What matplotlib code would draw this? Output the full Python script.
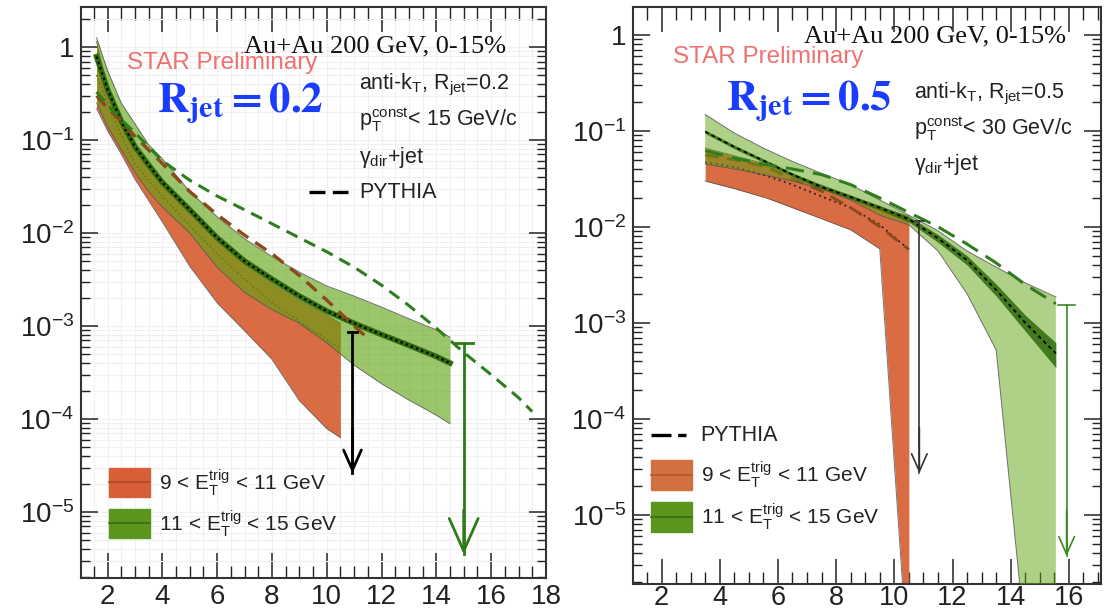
import numpy as np
import matplotlib
matplotlib.use("Agg")
import matplotlib.pyplot as plt
from matplotlib.patches import Rectangle
from matplotlib.lines import Line2D
from matplotlib.ticker import FixedLocator, FixedFormatter, MultipleLocator, LogLocator, NullFormatter

plt.rcParams['font.family'] = ['Liberation Sans', 'DejaVu Sans']
plt.rcParams['mathtext.fontset'] = 'custom'
plt.rcParams['mathtext.rm'] = 'Liberation Sans'
plt.rcParams['mathtext.it'] = 'Liberation Sans:italic'
plt.rcParams['mathtext.bf'] = 'Liberation Sans:bold'

# ---------------- R_jet = 0.2 ----------------
# 9 < E_T^trig < 11 GeV
x_or02 = [1.6, 2.0, 2.5, 3.0, 3.5, 4.0, 5.0, 6.0, 7.0, 8.0, 9.0, 10.0, 10.5]
up_or02 = [1.15, 0.35, 0.15, 0.079, 0.050, 0.033, 0.0166, 0.0083, 0.0047, 0.0029, 0.0019, 0.00132, 0.00107]
lo_or02 = [0.22, 0.126, 0.071, 0.038, 0.0224, 0.0132, 0.0044, 0.00178, 0.00089, 0.00044, 0.000158, 7.9e-5, 6.3e-5]
mid_or02 = [0.5, 0.25, 0.112, 0.056, 0.037, 0.025, 0.012, 0.006, 0.0032, 0.00178, 0.00112, 0.00071, 0.00058]
# 11 < E_T^trig < 15 GeV
x_gr02 = [1.6, 2.0, 2.5, 3.0, 3.5, 4.0, 5.0, 6.0, 7.0, 8.0, 9.0, 10.0, 11.0, 12.0, 13.0, 14.0, 14.5]
up_gr02 = [1.26, 0.56, 0.25, 0.15, 0.089, 0.063, 0.028, 0.015, 0.0087, 0.0056, 0.0038, 0.0027, 0.0021, 0.0016, 0.0012, 0.00091, 0.00076]
mid_gr02 = [0.79, 0.35, 0.16, 0.085, 0.054, 0.035, 0.0178, 0.0089, 0.005, 0.0032, 0.0021, 0.00145, 0.00107, 0.00081, 0.00062, 0.00047, 0.0004]
lo_gr02 = [0.25, 0.14, 0.079, 0.045, 0.028, 0.019, 0.01, 0.0043, 0.0023, 0.0015, 0.00107, 0.00066, 0.00038, 0.00024, 0.00016, 0.00011, 8.9e-5]
# PYTHIA
x_py_or02 = [1.6, 2.0, 2.5, 3.0, 4.0, 5.0, 6.0, 7.0, 8.0, 9.0, 10.0, 11.0, 11.5]
y_py_or02 = [0.3, 0.22, 0.16, 0.11, 0.056, 0.028, 0.0158, 0.0095, 0.006, 0.0035, 0.0019, 0.001, 0.00074]
x_py_gr02 = [1.6, 2.0, 2.5, 3.0, 4.0, 5.0, 6.0, 7.0, 8.0, 9.0, 10.0, 11.0, 12.0, 13.0, 14.0, 15.0, 16.0, 17.0, 17.5]
y_py_gr02 = [0.33, 0.24, 0.166, 0.12, 0.06, 0.037, 0.025, 0.0178, 0.0126, 0.0089, 0.0063, 0.0043, 0.00275, 0.00166, 0.00095, 0.00052, 0.0003, 0.00017, 0.00012]
# upper limits: x, top, arrow tip
lim_or02 = (10.94, 0.00086, 2.6e-5)
lim_gr02 = (15.0, 0.00066, 3.5e-6)

# ---------------- R_jet = 0.5 ----------------
x_or05 = [3.5, 4.5, 5.6, 6.5, 7.45, 8.5, 9.5, 10.5]
up_or05 = [0.066, 0.055, 0.045, 0.0355, 0.0275, 0.021, 0.0158, 0.0129]
mid_or05 = [0.047, 0.042, 0.034, 0.0275, 0.021, 0.0158, 0.0105, 0.0058]
lo_or05 = [0.030, 0.025, 0.020, 0.0158, 0.0123, 0.0093, 0.0059, 2e-7]
x_gr05 = [3.5, 4.5, 5.5, 6.5, 7.5, 8.5, 9.5, 10.5, 11.5, 12.5, 13.5, 14.5, 15.55]
up_gr05 = [0.148, 0.095, 0.066, 0.048, 0.036, 0.0275, 0.019, 0.0132, 0.0091, 0.0056, 0.0038, 0.0026, 0.00186]
mid_gr05 = [0.098, 0.068, 0.049, 0.035, 0.026, 0.0204, 0.0158, 0.012, 0.0076, 0.0045, 0.0022, 0.001, 0.00048]
stat_up_gr05 = [0.102, 0.071, 0.051, 0.0365, 0.0273, 0.0214, 0.0167, 0.0128, 0.0083, 0.005, 0.00253, 0.0012, 0.00062]
stat_lo_gr05 = [0.094, 0.065, 0.047, 0.0336, 0.0247, 0.0194, 0.0149, 0.0112, 0.0069, 0.004, 0.0019, 0.00082, 0.00034]
lo_gr05 = [0.045, 0.04, 0.035, 0.030, 0.025, 0.019, 0.0132, 0.0105, 0.0056, 0.002, 0.00052, 5e-7, 1e-8]
y_py_or05 = [0.056, 0.05, 0.042, 0.0316, 0.024, 0.0158, 0.01, 0.0058]
y_py_gr05 = [0.062, 0.052, 0.045, 0.04, 0.035, 0.0275, 0.02, 0.0141, 0.01, 0.0066, 0.0042, 0.0025, 0.00158]
lim_or05 = (10.86, 0.0114, 2.7e-5)
lim_gr05 = (15.92, 0.00155, 3.7e-6)

y_ticks = [1e-5, 1e-4, 1e-3, 1e-2, 1e-1, 1]
y_ticklabels = [r'$10^{-5}$', r'$10^{-4}$', r'$10^{-3}$', r'$10^{-2}$', r'$10^{-1}$', '1']

C_OR = '#d8643a'
C_GR = '#5ea311'
C_GR_DARK = '#2f6a0c'
C_PY_GR = '#2f7d1c'
C_PY_OR = '#8a4a1c'
C_STAR = '#f07070'
C_BLUE = '#1a3cff'

fig = plt.figure(figsize=(11.15, 6.14), dpi=100)
axL = fig.add_axes([0.0726, 0.0586, 0.417, 0.930])
axR = fig.add_axes([0.5677, 0.0489, 0.4197, 0.9397])


def style_axes(ax, xlim, ylim, grid, xpad):
    ax.set_yscale('log')
    ax.set_xlim(*xlim)
    ax.set_ylim(*ylim)
    ax.xaxis.set_major_locator(MultipleLocator(2))
    ax.xaxis.set_minor_locator(MultipleLocator(0.5))
    ax.yaxis.set_major_locator(FixedLocator(y_ticks))
    ax.yaxis.set_major_formatter(FixedFormatter(y_ticklabels))
    ax.yaxis.set_minor_locator(LogLocator(base=10, subs=np.arange(2, 10)))
    ax.yaxis.set_minor_formatter(NullFormatter())
    ax.tick_params(axis='both', which='both', direction='in', top=True, right=True,
                   labelsize=20, colors='#222222')
    ax.tick_params(axis='x', which='major', length=18, width=1.1, pad=xpad)
    ax.tick_params(axis='x', which='minor', length=9, width=1.0)
    ax.tick_params(axis='y', which='major', length=12, width=1.1, pad=5)
    ax.tick_params(axis='y', which='minor', length=6.5, width=1.0)
    for s in ax.spines.values():
        s.set_linewidth(1.5)
        s.set_color('#333333')
    if grid:
        ax.grid(True, which='both', color='#f0f0f0', lw=0.8, zorder=0)
        ax.set_axisbelow(True)


def band(ax, x, lo, up, color, alpha, z):
    ax.fill_between(x, lo, up, color=color, alpha=alpha, lw=0, zorder=z)
    ax.plot(x, up, color='#555555', lw=0.7, alpha=0.8, zorder=z)
    ax.plot(x, lo, color='#555555', lw=0.7, alpha=0.8, zorder=z)


def upper_limit(ax, lim, color, lw, cap, scale):
    x, top, tip = lim
    ax.plot([x, x], [top, tip], color=color, lw=lw, zorder=8)
    ax.plot([x - cap, x + cap], [top, top], color=color, lw=lw, zorder=8)
    ax.annotate('', xy=(x, tip), xytext=(x, tip * 3),
                arrowprops=dict(arrowstyle='->,head_length=0.9,head_width=0.4',
                                color=color, lw=lw, mutation_scale=scale,
                                shrinkA=0, shrinkB=0), zorder=8)


def legend_box(ax, x0, y0, w, h, color, line_color, text):
    ax.add_patch(Rectangle((x0, y0), w, h, transform=ax.transAxes, color=color, zorder=9))
    ax.add_line(Line2D([x0, x0 + w], [y0 + h / 2, y0 + h / 2], transform=ax.transAxes,
                       color=line_color, lw=1.2, zorder=10))
    ax.text(x0 + w + 0.02, y0 + h / 2, text, transform=ax.transAxes, fontsize=15,
            va='center', ha='left', color='#222222', zorder=10)


# ---------------- left panel ----------------
style_axes(axL, (1.03, 18), (1.95e-6, 2.7), True, 4)
band(axL, x_or02, lo_or02, up_or02, C_OR, 0.95, 2)
axL.plot(x_or02, mid_or02, color='#333333', lw=1.0, ls=(0, (1, 2)), zorder=2)
band(axL, x_gr02, lo_gr02, up_gr02, C_GR, 0.62, 3)
axL.plot(x_gr02, mid_gr02, color=C_GR_DARK, lw=4, zorder=4)
axL.plot(x_gr02, mid_gr02, color='black', lw=1.6, ls=(0, (1, 1.5)), zorder=5)
axL.plot(x_py_or02, y_py_or02, color=C_PY_OR, lw=2.4, ls=(0, (4, 2.5)), zorder=6)
axL.plot(x_py_gr02, y_py_gr02, color=C_PY_GR, lw=2.2, ls=(0, (4, 2.5)), zorder=6)
upper_limit(axL, lim_or02, 'black', 2.0, 0.15, 16)
upper_limit(axL, lim_gr02, '#2d7a16', 2.0, 0.35, 26)

axL.text(0.915, 0.921, 'Au+Au 200 GeV, 0-15%', transform=axL.transAxes, fontsize=19,
         family='Liberation Serif', ha='right', va='baseline', color='#111111')
axL.text(0.099, 0.891, 'STAR Preliminary', transform=axL.transAxes, fontsize=17.5,
         ha='left', va='baseline', color=C_STAR)
axL.text(0.163, 0.816, r'$\mathbf{R_{jet} = 0.2}$', transform=axL.transAxes, fontsize=31,
         math_fontfamily='stix', ha='left', va='baseline', color=C_BLUE)
axL.text(0.598, 0.856, r'anti-k$_\mathrm{T}$, R$_\mathrm{jet}$=0.2', transform=axL.transAxes,
         fontsize=15.5, ha='left', va='baseline', color='#222222')
axL.text(0.598, 0.792, r'p$_\mathrm{T}^\mathrm{const}$< 15 GeV/c', transform=axL.transAxes,
         fontsize=15.5, ha='left', va='baseline', color='#222222')
axL.text(0.598, 0.727, r'γ$_\mathrm{dir}$+jet', transform=axL.transAxes,
         fontsize=15.5, ha='left', va='baseline', color='#222222')
axL.add_line(Line2D([0.490, 0.574], [0.676, 0.676], transform=axL.transAxes, color='black',
                    lw=2.4, ls=(0, (4.8, 2.2)), zorder=10))
axL.text(0.598, 0.676, 'PYTHIA', transform=axL.transAxes, fontsize=15.5,
         ha='left', va='center', color='#222222')
legend_box(axL, 0.060, 0.142, 0.088, 0.051, '#d65f37', '#b04a25',
           r'9 < E$_\mathrm{T}^\mathrm{trig}$ < 11 GeV')
legend_box(axL, 0.060, 0.070, 0.088, 0.051, '#5a961e', '#3a6e10',
           r'11 < E$_\mathrm{T}^\mathrm{trig}$ < 15 GeV')

# ---------------- right panel ----------------
style_axes(axR, (1.02, 17.1), (1.9e-6, 1.95), False, 0.5)
axR.tick_params(axis='x', which='major', labelsize=19.5)
band(axR, x_or05, lo_or05, up_or05, C_OR, 0.95, 2)
axR.plot(x_or05, mid_or05, color='#222222', lw=1.3, ls=(0, (1, 2)), zorder=2)
axR.plot(x_or05, y_py_or05, color=C_PY_OR, lw=2.0, ls=(0, (5, 3)), zorder=2)
band(axR, x_gr05, lo_gr05, up_gr05, C_GR, 0.5, 3)
axR.fill_between(x_gr05, stat_lo_gr05, stat_up_gr05, color=C_GR_DARK, alpha=0.85, lw=0, zorder=4)
axR.plot(x_gr05, mid_gr05, color='black', lw=1.3, ls=(0, (2, 2)), zorder=5)
axR.plot(x_gr05, y_py_gr05, color=C_PY_GR, lw=2.2, ls=(0, (6, 3)), zorder=6)
upper_limit(axR, lim_or05, '#333333', 1.2, 0.15, 14)
upper_limit(axR, lim_gr05, '#3a8a22', 1.2, 0.3, 14)

axR.text(0.925, 0.939, 'Au+Au 200 GeV, 0-15%', transform=axR.transAxes, fontsize=19,
         family='Liberation Serif', ha='right', va='baseline', color='#111111')
axR.text(0.085, 0.903, 'STAR Preliminary', transform=axR.transAxes, fontsize=17.5,
         ha='left', va='baseline', color=C_STAR)
axR.text(0.199, 0.821, r'$\mathbf{R_{jet} = 0.5}$', transform=axR.transAxes, fontsize=31,
         math_fontfamily='stix', ha='left', va='baseline', color=C_BLUE)
axR.text(0.600, 0.842, r'anti-k$_\mathrm{T}$, R$_\mathrm{jet}$=0.5', transform=axR.transAxes,
         fontsize=15.5, ha='left', va='baseline', color='#222222')
axR.text(0.600, 0.778, r'p$_\mathrm{T}^\mathrm{const}$< 30 GeV/c', transform=axR.transAxes,
         fontsize=15.5, ha='left', va='baseline', color='#222222')
axR.text(0.600, 0.717, r'γ$_\mathrm{dir}$+jet', transform=axR.transAxes,
         fontsize=15.5, ha='left', va='baseline', color='#222222')
axR.add_line(Line2D([0.038, 0.126], [0.258, 0.258], transform=axR.transAxes, color='black',
                    lw=2.4, ls=(0, (6, 2, 2.5, 2)), zorder=10))
axR.text(0.143, 0.258, 'PYTHIA', transform=axR.transAxes, fontsize=15.5,
         ha='left', va='center', color='#222222')
legend_box(axR, 0.038, 0.163, 0.088, 0.052, '#d4703f', '#b0552a',
           r'9 < E$_\mathrm{T}^\mathrm{trig}$ < 11 GeV')
legend_box(axR, 0.038, 0.090, 0.088, 0.052, '#5a961e', '#3a6e10',
           r'11 < E$_\mathrm{T}^\mathrm{trig}$ < 15 GeV')

fig.savefig('out.png', dpi=100)
